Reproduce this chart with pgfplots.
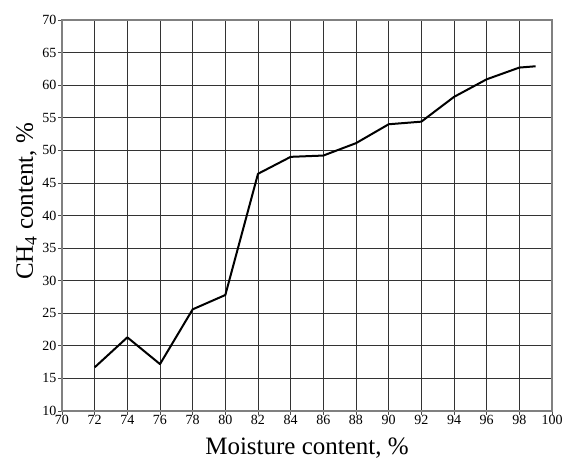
\documentclass[border=0pt]{standalone}
\usepackage{fontspec}
\setmainfont{Liberation Serif}
\usepackage{pgfplots}
\pgfplotsset{compat=1.18}

\begin{document}
\begin{tikzpicture}
\useasboundingbox (-62pt,-49pt) rectangle (501pt,411pt);
\begin{axis}[
    scale only axis,
    width=490pt, height=391pt,
    xmin=70, xmax=100,
    ymin=10, ymax=70,
    xtick={70,72,...,100},
    ytick={10,15,...,70},
    grid=major,
    grid style={black!80, line width=0.8pt},
    axis line style={black!50, line width=1.2pt},
    tick style={black!70, line width=0.8pt},
    tick align=outside,
    major tick length=4pt,
    xtick pos=bottom, ytick pos=left,
    /pgf/number format/assume math mode=true,
    tick label style={font=\fontsize{14}{16}\selectfont},
    xticklabel style={yshift=3pt},
    yticklabel style={xshift=2pt},
    xlabel={Moisture content, \%},
    ylabel={CH\textsubscript{4} content, \%},
    label style={font=\fontsize{25}{28}\selectfont},
    xlabel style={at={(axis description cs:0.5,0)}, anchor=base, yshift=-44pt},
    ylabel style={at={(axis description cs:0,0.536)}, anchor=base, yshift=29pt},
]
\addplot[black, line width=2pt, line join=round] coordinates {
    (72,16.7) (74,21.3) (76,17.2) (78,25.6) (80,27.8)
    (82,46.4) (84,49.0) (86,49.2) (88,51.1) (90,54.0)
    (92,54.4) (94,58.2) (96,60.9) (98,62.7) (99,62.9)
};
\end{axis}
\end{tikzpicture}
\end{document}
